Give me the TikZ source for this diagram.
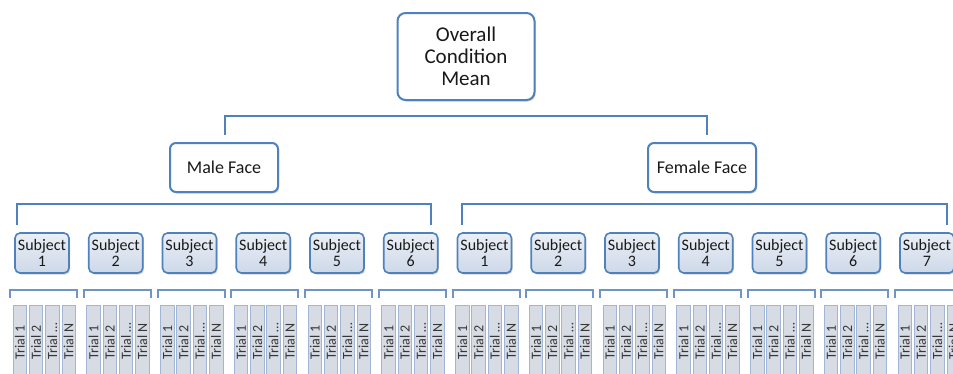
\documentclass[tikz,border=0pt]{standalone}
\usepackage{fontspec}
\setmainfont{Carlito}
\usetikzlibrary{shadows}

\definecolor{boxblue}{RGB}{79,129,189}
\definecolor{braceblue}{RGB}{110,148,200}
\definecolor{subjfill}{RGB}{205,216,232}
\definecolor{trialfill}{RGB}{214,219,228}
\definecolor{trialline}{RGB}{160,182,212}
\definecolor{trialink}{RGB}{55,55,55}

\tikzset{
  softshadow/.style={drop shadow={opacity=0.35, shadow xshift=1.2pt, shadow yshift=-1.5pt}},
  meanbox/.style={draw=boxblue, line width=2pt, rounded corners=8pt, fill=white, softshadow,
    minimum width=137pt, minimum height=87pt, align=center, text=black!90,
    font=\fontsize{21}{22}\selectfont},
  facebox/.style={draw=boxblue, line width=2pt, rounded corners=6pt, fill=white, softshadow,
    minimum width=108pt, minimum height=49pt, text=black!90, font=\fontsize{18}{20}\selectfont},
  subjbox/.style={draw=boxblue, line width=1.6pt, rounded corners=5pt, top color=white!60!subjfill,
    bottom color=subjfill, softshadow, minimum width=54pt, minimum height=40pt, inner sep=0pt,
    align=center, text=black!90, font=\fontsize{16}{16}\selectfont},
  trialbox/.style={draw=trialline, fill=trialfill, line width=0.8pt, minimum width=13.5pt,
    minimum height=72pt, inner sep=0pt},
  trialtext/.style={rotate=90, anchor=west, text=trialink, inner sep=0pt,
    font=\fontsize{14}{14}\selectfont},
  bigbrace/.style={draw=boxblue, line width=2.6pt},
  smallbrace/.style={draw=braceblue, line width=2pt},
}

\begin{document}
\begin{tikzpicture}[x=1pt, y=-1pt]
  \useasboundingbox (0,0) rectangle (953,373);
  \clip (0,0) rectangle (953,373);

  % top level
  \node[meanbox] (mean) at (466,56.5) {Overall\\Condition\\Mean};
  \node[facebox] (male) at (224,167.5) {Male Face};
  \node[facebox] (female) at (702,167.5) {Female Face};

  % brackets
  \coordinate (topL) at (225,135);
  \coordinate (topR) at (707,135);
  \draw[bigbrace] (topL) |- (707,116) -- (topR);
  \coordinate (maleL) at (17,225);
  \coordinate (maleR) at (431,225);
  \draw[bigbrace] (maleL) |- (431,204) -- (maleR);
  \coordinate (femL) at (462,225);
  \coordinate (femR) at (947,225);
  \draw[bigbrace] (femL) |- (947,204) -- (femR);

  % subjects and trials
  \foreach \n [count=\k] in {1,2,3,4,5,6,1,2,3,4,5,6,7}{
    \pgfmathsetmacro\cx{42+73.75*(\k-1)}
    \node[subjbox] (s\k) at (\cx,253) {Subject\\\n};
    \coordinate (b\k L) at ({\cx-32},298);
    \coordinate (b\k R) at ({\cx+35},298);
    \draw[smallbrace] (b\k L) |- ({\cx+35},290) -- (b\k R);
    \foreach \t [count=\j] in {1,2,…,N}{
      \node[trialbox] (t\k\j) at ({\cx+2.2+16.3*(\j-2.5)},341) {};
      \node[trialtext] at ([yshift=18pt]t\k\j.south) {Trial \t};
    }
  }
\end{tikzpicture}
\end{document}
